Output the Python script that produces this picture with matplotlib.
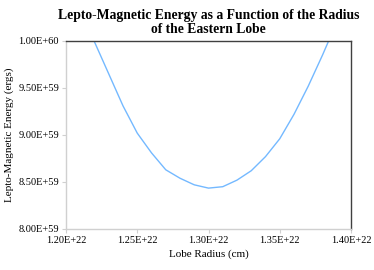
import matplotlib
matplotlib.use("Agg")
import matplotlib.pyplot as plt
from matplotlib.ticker import FuncFormatter

# lobe radius (cm) and lepto-magnetic energy (ergs)
radius = [1.21e22, 1.22e22, 1.23e22, 1.24e22, 1.25e22, 1.26e22, 1.27e22,
          1.28e22, 1.29e22, 1.30e22, 1.31e22, 1.32e22, 1.33e22, 1.34e22,
          1.35e22, 1.36e22, 1.37e22, 1.38e22, 1.39e22]
energy = [10.34e59, 9.99e59, 9.65e59, 9.31e59, 9.02e59, 8.81e59, 8.63e59,
          8.54e59, 8.47e59, 8.435e59, 8.45e59, 8.52e59, 8.62e59, 8.77e59,
          8.96e59, 9.22e59, 9.52e59, 9.85e59, 10.20e59]

x_ticks = [1.20e22, 1.25e22, 1.30e22, 1.35e22, 1.40e22]
y_ticks = [8.0e59, 8.5e59, 9.0e59, 9.5e59, 1.0e60]

plt.rcParams['font.family'] = ['Liberation Serif', 'DejaVu Serif']

fig = plt.figure(figsize=(3.74, 2.70), dpi=100)
ax = fig.add_axes([66 / 374, 1 - 229 / 270, 285 / 374, 188 / 270])

ax.plot(radius, energy, color='#74b9ff', linewidth=1.0)

ax.set_xlim(1.20e22, 1.40e22)
ax.set_ylim(8.0e59, 1.0e60)
ax.set_xticks(x_ticks)
ax.set_yticks(y_ticks)
fmt = FuncFormatter(lambda v, p: f"{v:.2E}")
ax.xaxis.set_major_formatter(fmt)
ax.yaxis.set_major_formatter(fmt)
ax.tick_params(axis='both', labelsize=7.5, length=3, width=0.8, color='#d0d0d0', pad=2)

for side in ['left', 'bottom']:
    ax.spines[side].set_color('#d0d0d0')
    ax.spines[side].set_linewidth(1.0)
for side in ['top', 'right']:
    ax.spines[side].set_color('#404040')
    ax.spines[side].set_linewidth(1.0)

ax.set_xlabel('Lobe Radius (cm)', fontsize=8, labelpad=3)
ax.set_ylabel('Lepto-Magnetic Energy (ergs)', fontsize=8, labelpad=3)
ax.set_title('Lepto-Magnetic Energy as a Function of the Radius\nof the Eastern Lobe',
             fontsize=9.8, fontweight='bold', pad=6, linespacing=1.05)

fig.savefig('out.png', dpi=100)
